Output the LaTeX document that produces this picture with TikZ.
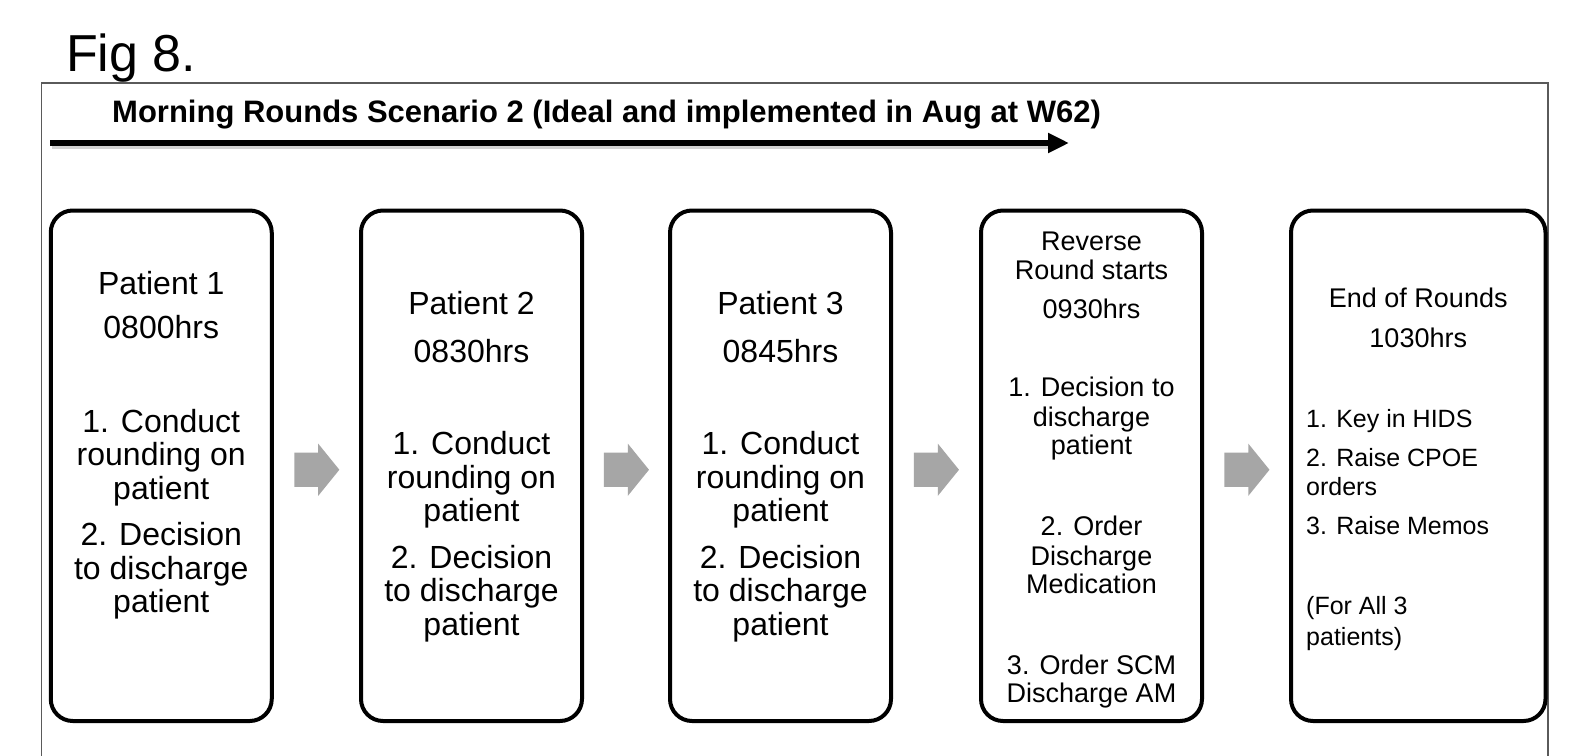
\documentclass[tikz,border=0pt]{standalone}
\usepackage{fontspec}
\setmainfont{Liberation Sans}
\usetikzlibrary{shapes.arrows,calc,arrows.meta}
\definecolor{arrowgray}{HTML}{A6A6A6}
\definecolor{framegray}{HTML}{5A5A5A}
\begin{document}
\begin{tikzpicture}[x=1pt,y=-1pt,
  stepbox/.style={draw=black, line width=4pt, rounded corners=22pt, minimum width=221pt, minimum height=510.5pt, inner sep=0pt},
  gaparrow/.style={single arrow, fill=arrowgray, draw=none, minimum height=45pt, minimum width=52pt, single arrow head extend=9pt, single arrow tip angle=102, inner xsep=0pt, inner ysep=17pt, xshift=-6.5pt, yshift=-4pt},
  bigtxt/.style={font=\fontsize{32}{35}\selectfont, anchor=base, inner sep=0pt},
  smalltxt/.style={font=\fontsize{27}{30}\selectfont, anchor=base, inner sep=0pt},
  smallleft/.style={font=\fontsize{25}{29}\selectfont, anchor=base west, inner sep=0pt},
]
\useasboundingbox (0,0) rectangle (1590,755);
\fill[white] (0,0) rectangle (1590,755);
% frame
\draw[framegray, line width=1.3pt] (41.7,760) -- (41.7,83) -- (1548,83) -- (1548,760);
% heading
\node[font=\fontsize{52}{58}\selectfont, anchor=base west, inner sep=0pt] (fig) at (66,71) {Fig 8.};
\node[font=\bfseries\fontsize{31}{35}\selectfont, anchor=base west, inner sep=0pt] (title) at (112,122) {Morning Rounds Scenario 2 (Ideal and implemented in Aug at W62)};
% time arrow
\coordinate (ts) at (50,143);
\coordinate (te) at (1069,143);
\draw[black!35, opacity=0.5, line width=6pt] ($(ts)+(2,3)$) -- ($(te)+(-20,3)$);
\draw[line width=6pt, -{Triangle[length=21pt,width=19pt]}] (ts) -- (te);
% boxes
\node[stepbox] (b1) at (161.25,465.75) {};
\node[stepbox] (b2) at (471.5,465.75) {};
\node[stepbox] (b3) at (780.5,465.75) {};
\node[stepbox] (b4) at (1091.5,465.75) {};
\node[stepbox, minimum width=254.5pt] (b5) at (1418.25,465.75) {};
% gray arrows
\node[gaparrow] (a1) at ($(b1.east)!0.5!(b2.west)$) {};
\node[gaparrow] (a2) at ($(b2.east)!0.5!(b3.west)$) {};
\node[gaparrow] (a3) at ($(b3.east)!0.5!(b4.west)$) {};
\node[gaparrow] (a4) at ($(b4.east)!0.5!(b5.west)$) {};
% box 1
\node[bigtxt] (p1a) at (161.25,294) {Patient 1};
\node[bigtxt] (p1b) at (161.25,338) {0800hrs};
\node[bigtxt] (p1c) at (161.25,432) {1. Conduct};
\node[bigtxt] (p1d) at (161.25,465) {rounding on};
\node[bigtxt] (p1e) at (161.25,499) {patient};
\node[bigtxt] (p1f) at (161.25,545) {2. Decision};
\node[bigtxt] (p1g) at (161.25,579) {to discharge};
\node[bigtxt] (p1h) at (161.25,612) {patient};
% box 2
\node[bigtxt] (p2a) at (471.5,314) {Patient 2};
\node[bigtxt] (p2b) at (471.5,362) {0830hrs};
\node[bigtxt] (p2c) at (471.5,454) {1. Conduct};
\node[bigtxt] (p2d) at (471.5,488) {rounding on};
\node[bigtxt] (p2e) at (471.5,521) {patient};
\node[bigtxt] (p2f) at (471.5,568) {2. Decision};
\node[bigtxt] (p2g) at (471.5,601) {to discharge};
\node[bigtxt] (p2h) at (471.5,635) {patient};
% box 3
\node[bigtxt] (p3a) at (780.5,314) {Patient 3};
\node[bigtxt] (p3b) at (780.5,362) {0845hrs};
\node[bigtxt] (p3c) at (780.5,454) {1. Conduct};
\node[bigtxt] (p3d) at (780.5,488) {rounding on};
\node[bigtxt] (p3e) at (780.5,521) {patient};
\node[bigtxt] (p3f) at (780.5,568) {2. Decision};
\node[bigtxt] (p3g) at (780.5,601) {to discharge};
\node[bigtxt] (p3h) at (780.5,635) {patient};
% box 4
\node[smalltxt] (p4a) at (1091.5,250) {Reverse};
\node[smalltxt] (p4b) at (1091.5,279) {Round starts};
\node[smalltxt] (p4c) at (1091.5,318) {0930hrs};
\node[smalltxt] (p4d) at (1091.5,396) {1. Decision to};
\node[smalltxt] (p4e) at (1091.5,426) {discharge};
\node[smalltxt] (p4f) at (1091.5,454) {patient};
\node[smalltxt] (p4g) at (1091.5,535) {2. Order};
\node[smalltxt] (p4h) at (1091.5,565) {Discharge};
\node[smalltxt] (p4i) at (1091.5,593) {Medication};
\node[smalltxt] (p4j) at (1091.5,674) {3. Order SCM};
\node[smalltxt] (p4k) at (1091.5,702) {Discharge AM};
% box 5
\node[smalltxt] (p5a) at (1418.25,307) {End of Rounds};
\node[smalltxt] (p5b) at (1418.25,347) {1030hrs};
\node[smallleft] (p5c) at (1306,427) {1. Key in HIDS};
\node[smallleft] (p5d) at (1306,466) {2. Raise CPOE};
\node[smallleft] (p5e) at (1306,495) {orders};
\node[smallleft] (p5f) at (1306,534) {3. Raise Memos};
\node[smallleft] (p5g) at (1306,614) {(For All 3};
\node[smallleft] (p5h) at (1306,645) {patients)};
\end{tikzpicture}
\end{document}
